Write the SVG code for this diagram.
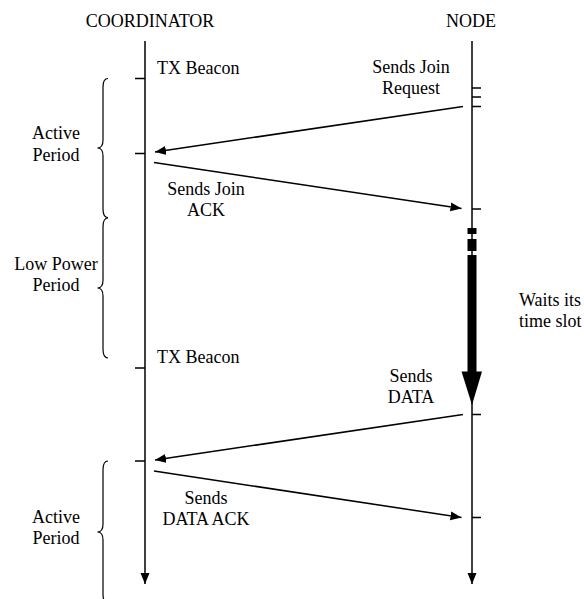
<svg xmlns="http://www.w3.org/2000/svg" width="584" height="599" viewBox="0 0 584 599">
<style>
text{font-family:"Times New Roman",Times,"Liberation Serif","DejaVu Serif","Noto Serif",serif;font-size:18px;fill:#000}
.c{text-anchor:middle}
.ln{stroke:#000;stroke-width:1.5;fill:none}
.br{stroke:#000;stroke-width:1.2;fill:none}
</style>
<defs>
<marker id="ah" markerUnits="userSpaceOnUse" markerWidth="12" markerHeight="10" viewBox="0 0 12 10" refX="11" refY="5" orient="auto">
<path d="M0,0.5 L11,5 L0,9.5 Z" fill="#000"/>
</marker>
</defs>
<rect width="584" height="599" fill="#fff"/>
<g id="coordinator">
<text class="c" x="150" y="27">COORDINATOR</text>
<line class="ln" x1="145" y1="41" x2="145" y2="584" marker-end="url(#ah)"/>
<path class="ln" d="M135,78.5H145M135,153.5H145M135,368H145M135,461H145"/>
<text x="157" y="74">TX Beacon</text>
<text x="157" y="363">TX Beacon</text>
</g>
<g id="node">
<text class="c" x="471" y="27">NODE</text>
<line class="ln" x1="472" y1="41" x2="472" y2="584" marker-end="url(#ah)"/>
<path class="ln" d="M472,88H481M472,97H481M472,106.5H481M472,209H481M472,414.5H481M472,517.5H481"/>
<rect x="467.5" y="228" width="9" height="6" fill="#000"/>
<rect x="467.5" y="239" width="9" height="12" fill="#000"/>
<rect x="467.5" y="255" width="9" height="117" fill="#000"/>
<path d="M461.5,371.5 L482,371.5 L472,405 Z" fill="#000"/>
<text x="519" y="306">Waits its</text>
<text x="519" y="327">time slot</text>
</g>
<g id="periods">
<path class="br" d="M108,78.5 Q103,78.5 103,87 L103,140 Q103,148 97.5,148 Q103,148 103,156 L103,209 Q103,217.5 108,217.5"/>
<path class="br" d="M108,218 Q103,218 103,227 L103,280 Q103,288 97.5,288 Q103,288 103,296 L103,349 Q103,358 108,358"/>
<path class="br" d="M108,461 Q103,461 103,470 L103,524 Q103,532 97.5,532 Q103,532 103,540 L103,594 Q103,603 108,603"/>
<text class="c" x="56" y="139">Active</text>
<text class="c" x="56" y="161">Period</text>
<text class="c" x="56" y="270">Low Power</text>
<text class="c" x="56" y="291">Period</text>
<text class="c" x="56" y="523">Active</text>
<text class="c" x="56" y="544">Period</text>
</g>
<g id="connectors">
<line class="ln" x1="463" y1="106.5" x2="155" y2="152" marker-end="url(#ah)"/>
<line class="ln" x1="154" y1="162.5" x2="461.5" y2="208.5" marker-end="url(#ah)"/>
<line class="ln" x1="463" y1="414.5" x2="155" y2="460" marker-end="url(#ah)"/>
<line class="ln" x1="154" y1="471" x2="461.5" y2="517.5" marker-end="url(#ah)"/>
<text class="c" x="411" y="73">Sends Join</text>
<text class="c" x="411" y="94">Request</text>
<text class="c" x="206" y="195">Sends Join</text>
<text class="c" x="206" y="216">ACK</text>
<text class="c" x="411" y="382">Sends</text>
<text class="c" x="411" y="403">DATA</text>
<text class="c" x="206" y="504">Sends</text>
<text class="c" x="206" y="525">DATA ACK</text>
</g>
</svg>
